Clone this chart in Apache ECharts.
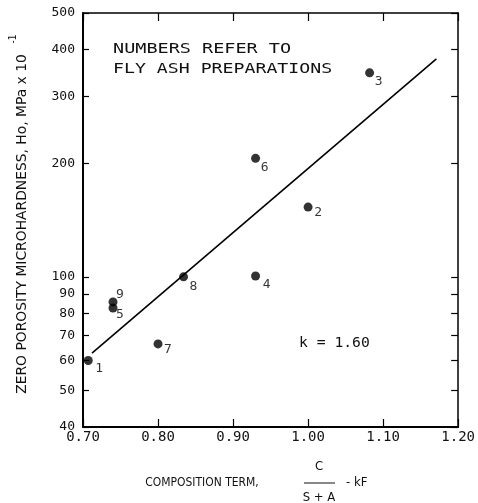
<!DOCTYPE html>
<html>
<head>
<meta charset="utf-8">
<script src="https://cdn.jsdelivr.net/npm/echarts@6/dist/echarts.min.js"></script>
<style>html,body{margin:0;padding:0;background:#fff}#c{width:478px;height:503px}</style>
</head>
<body>
<div id="c"></div>
<script>
// ---- data ----
const pointIds = ['1', '2', '3', '4', '5', '6', '7', '8', '9'];
const pointX = [0.707, 1.000, 1.082, 0.930, 0.740, 0.930, 0.800, 0.834, 0.740];
const pointY = [60, 153, 347, 100.5, 82.7, 206, 66.4, 100, 85.8];
const fitX = [0.712, 1.171];
const fitY = [62.8, 378];
const xTicks = [0.70, 0.80, 0.90, 1.00, 1.10, 1.20];
const yTicks = [40, 50, 60, 70, 80, 90, 100, 200, 300, 400, 500];
const noteLines = ['NUMBERS REFER TO', 'FLY ASH PREPARATIONS'];
const kText = 'k = 1.60';
const yTitle = 'ZERO POROSITY MICROHARDNESS, Ho, MPa x 10';
const yTitleSup = '-1';
const xTitle = 'COMPOSITION TERM,';
const fracNum = 'C';
const fracDen = 'S + A';
const fracTail = '- kF';

// ---- styles ----
const labelOffsets = {'1':[11,8],'2':[10,6],'3':[9,9],'4':[11,9],'5':[7,7],'6':[9,9],'7':[10,6],'8':[10,10],'9':[7,-7]};
const mono = '"DejaVu Sans Mono", monospace';
const cond = '"DejaVu Sans Condensed", "DejaVu Sans", sans-serif';

const chart = echarts.init(document.getElementById('c'));
const pts = pointIds.map((id, i) => ({
  value: [pointX[i], pointY[i]],
  label: {offset: labelOffsets[id]}
}));

const baseX = {type: 'value', min: xTicks[0], max: xTicks[xTicks.length - 1], interval: 0.1, splitLine: {show: false}};
const baseY = {type: 'log', logBase: 10, min: yTicks[0], max: yTicks[yTicks.length - 1], splitLine: {show: false}};

chart.setOption({
  animation: false,
  backgroundColor: '#fff',
  grid: {left: 83, right: 19, top: 13, bottom: 76},
  xAxis: [
    Object.assign({}, baseX, {
      position: 'bottom',
      axisLine: {lineStyle: {color: '#000', width: 2}},
      axisTick: {inside: true, length: 8, lineStyle: {color: '#000', width: 1.2}},
      axisLabel: {color: '#111', fontFamily: mono, fontSize: 14, margin: 3,
        formatter: v => v.toFixed(2)}
    }),
    Object.assign({}, baseX, {
      position: 'top',
      axisLine: {lineStyle: {color: '#000', width: 1.5}},
      axisTick: {inside: true, length: 8, lineStyle: {color: '#000', width: 1.2}},
      axisLabel: {show: false}
    })
  ],
  yAxis: [
    Object.assign({}, baseY, {
      position: 'left',
      axisLine: {lineStyle: {color: '#000', width: 2}},
      axisTick: {inside: true, length: 6, customValues: yTicks, lineStyle: {color: '#000', width: 1.2}},
      axisLabel: {color: '#111', fontFamily: mono, fontSize: 13, margin: 8, customValues: yTicks,
        formatter: v => String(Math.round(v))}
    }),
    Object.assign({}, baseY, {
      position: 'right',
      axisLine: {lineStyle: {color: '#000', width: 1.5}},
      axisTick: {inside: true, length: 7, customValues: yTicks, lineStyle: {color: '#000', width: 1.2}},
      axisLabel: {show: false}
    })
  ],
  series: [
    {
      type: 'line',
      data: fitX.map((x, i) => [x, fitY[i]]),
      symbol: 'none',
      lineStyle: {color: '#000', width: 1.6}
    },
    {
      type: 'scatter',
      data: pts,
      symbolSize: 9,
      itemStyle: {color: '#000'},
      label: {
        show: true, position: 'inside', color: '#000', fontFamily: mono, fontSize: 13,
        formatter: p => pointIds[p.dataIndex]
      }
    }
  ],
  graphic: [
    {type: 'text', x: 113, y: 49, scaleX: 1.32, style: {text: noteLines[0], font: '14px ' + mono, fill: '#111', textVerticalAlign: 'middle'}},
    {type: 'text', x: 113, y: 69, scaleX: 1.3, style: {text: noteLines[1], font: '14px ' + mono, fill: '#111', textVerticalAlign: 'middle'}},
    {type: 'text', x: 299, y: 343, scaleX: 1.05, style: {text: kText, font: '14px ' + mono, fill: '#111', textVerticalAlign: 'middle'}},
    {type: 'text', x: 22, y: 224, rotation: Math.PI / 2, scaleX: 1.1, style: {text: yTitle, font: '14px ' + cond, fill: '#111', textAlign: 'center', textVerticalAlign: 'middle'}},
    {type: 'text', x: 13, y: 39, rotation: Math.PI / 2, style: {text: yTitleSup, font: '10px ' + cond, fill: '#111', textAlign: 'center', textVerticalAlign: 'middle'}},
    {type: 'text', x: 202, y: 483, scaleX: 0.92, style: {text: xTitle, font: '13px ' + cond, fill: '#111', textAlign: 'center', textVerticalAlign: 'middle'}},
    {type: 'text', x: 319, y: 467, style: {text: fracNum, font: '13px ' + cond, fill: '#111', textAlign: 'center', textVerticalAlign: 'middle'}},
    {type: 'line', shape: {x1: 304, y1: 483, x2: 335, y2: 483}, style: {stroke: '#111', lineWidth: 1}},
    {type: 'text', x: 319, y: 498, style: {text: fracDen, font: '13px ' + cond, fill: '#111', textAlign: 'center', textVerticalAlign: 'middle'}},
    {type: 'text', x: 346, y: 483, style: {text: fracTail, font: '13px ' + cond, fill: '#111', textVerticalAlign: 'middle'}}
  ]
});
</script>
</body>
</html>
